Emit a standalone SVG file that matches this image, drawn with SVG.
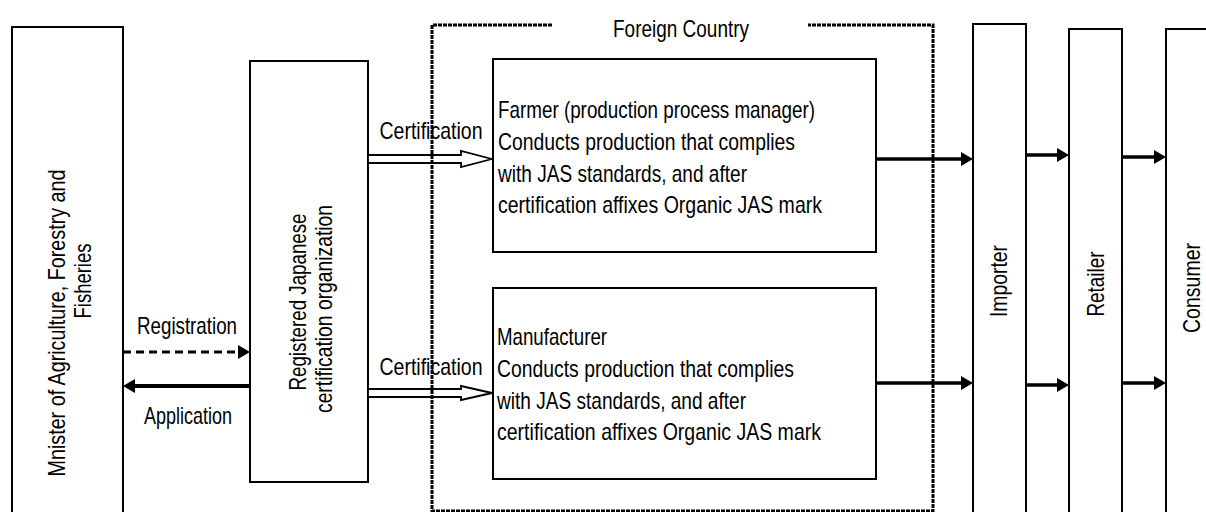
<svg xmlns="http://www.w3.org/2000/svg" width="1206" height="512" viewBox="0 0 1206 512">
<style>
.t{font-family:"Liberation Sans",Arial,Helvetica,sans-serif;font-size:24px;fill:#000}
.m{text-anchor:middle}
.box{fill:#fff;stroke:#000;stroke-width:2}
.flow{stroke:#000;stroke-width:3.5;fill:none}
.hollow{fill:#fff;stroke:#000;stroke-width:1.8;stroke-linejoin:miter}
.region{fill:none;stroke:#000;stroke-width:3;stroke-dasharray:4 1}
</style>
<defs>
<marker id="ah" markerUnits="userSpaceOnUse" markerWidth="12" markerHeight="14" viewBox="0 0 12 14" refX="0" refY="7" orient="auto">
<path d="M0,0 L12,7 L0,14 Z" fill="#000"/>
</marker>
</defs>
<rect width="1206" height="512" fill="#fff"/>

<g id="minister">
<rect class="box" x="12" y="27" width="111" height="500"/>
<text class="t m" transform="translate(65,323) rotate(-90)" textLength="307" lengthAdjust="spacingAndGlyphs">Mnister of  Agriculture, Forestry and</text>
<text class="t m" transform="translate(91,281) rotate(-90)" textLength="75" lengthAdjust="spacingAndGlyphs">Fisheries</text>
</g>

<g id="certifier">
<rect class="box" x="250" y="61" width="118" height="421"/>
<text class="t m" transform="translate(306,302) rotate(-90)" textLength="177" lengthAdjust="spacingAndGlyphs">Registered Japanese</text>
<text class="t m" transform="translate(332,309) rotate(-90)" textLength="208" lengthAdjust="spacingAndGlyphs">certification organization</text>
</g>

<g id="farmer">
<rect class="box" x="493" y="59" width="383" height="193"/>
<text class="t" x="498" y="118" textLength="317" lengthAdjust="spacingAndGlyphs">Farmer (production process manager)</text>
<text class="t" x="498" y="150" textLength="297" lengthAdjust="spacingAndGlyphs">Conducts production that complies</text>
<text class="t" x="498" y="181.5" textLength="249" lengthAdjust="spacingAndGlyphs">with JAS standards, and after</text>
<text class="t" x="498" y="213" textLength="324" lengthAdjust="spacingAndGlyphs">certification affixes Organic JAS mark</text>
</g>

<g id="manufacturer">
<rect class="box" x="493" y="288" width="383" height="191"/>
<text class="t" x="497" y="345" textLength="110" lengthAdjust="spacingAndGlyphs">Manufacturer</text>
<text class="t" x="497" y="377" textLength="297" lengthAdjust="spacingAndGlyphs">Conducts production that complies</text>
<text class="t" x="497" y="408.5" textLength="249" lengthAdjust="spacingAndGlyphs">with JAS standards, and after</text>
<text class="t" x="497" y="440" textLength="324" lengthAdjust="spacingAndGlyphs">certification affixes Organic JAS mark</text>
</g>

<g id="importer">
<rect class="box" x="973" y="24" width="53" height="500"/>
<text class="t m" transform="translate(1007,281) rotate(-90)" textLength="72" lengthAdjust="spacingAndGlyphs">Importer</text>
</g>

<g id="retailer">
<rect class="box" x="1069" y="29" width="53" height="500"/>
<text class="t m" transform="translate(1104,284) rotate(-90)" textLength="65" lengthAdjust="spacingAndGlyphs">Retailer</text>
</g>

<g id="consumer">
<rect class="box" x="1166" y="29" width="60" height="500"/>
<text class="t m" transform="translate(1200,288) rotate(-90)" textLength="90" lengthAdjust="spacingAndGlyphs">Consumer</text>
</g>

<g id="connectors">
<line x1="123" y1="352" x2="238" y2="352" stroke="#000" stroke-width="3" stroke-dasharray="8 5" marker-end="url(#ah)"/>
<line x1="250" y1="386" x2="135" y2="386" stroke="#000" stroke-width="4" marker-end="url(#ah)"/>
<text class="t m" x="187" y="334" textLength="100" lengthAdjust="spacingAndGlyphs">Registration</text>
<text class="t m" x="188" y="424" textLength="88" lengthAdjust="spacingAndGlyphs">Application</text>

<polygon class="hollow" points="368,155 461,155 461,151 492,159 461,167 461,163 368,163"/>
<polygon class="hollow" points="368,389 461,389 461,386 492,393 461,400 461,397 368,397"/>
<text class="t m" x="431" y="139" textLength="103" lengthAdjust="spacingAndGlyphs">Certification</text>
<text class="t m" x="431" y="375" textLength="103" lengthAdjust="spacingAndGlyphs">Certification</text>

<line class="flow" x1="876" y1="159" x2="961" y2="159" marker-end="url(#ah)"/>
<line class="flow" x1="876" y1="383" x2="961" y2="383" marker-end="url(#ah)"/>
<line class="flow" x1="1026" y1="155" x2="1057" y2="155" marker-end="url(#ah)"/>
<line class="flow" x1="1026" y1="385" x2="1057" y2="385" marker-end="url(#ah)"/>
<line class="flow" x1="1122" y1="157" x2="1154" y2="157" marker-end="url(#ah)"/>
<line class="flow" x1="1122" y1="383" x2="1154" y2="383" marker-end="url(#ah)"/>
</g>

<g id="foreign-country">
<path class="region" d="M552,25 H432 V511 H933 V25 H808"/>
<text class="t m" x="681" y="37" textLength="136" lengthAdjust="spacingAndGlyphs">Foreign Country</text>
</g>
</svg>
